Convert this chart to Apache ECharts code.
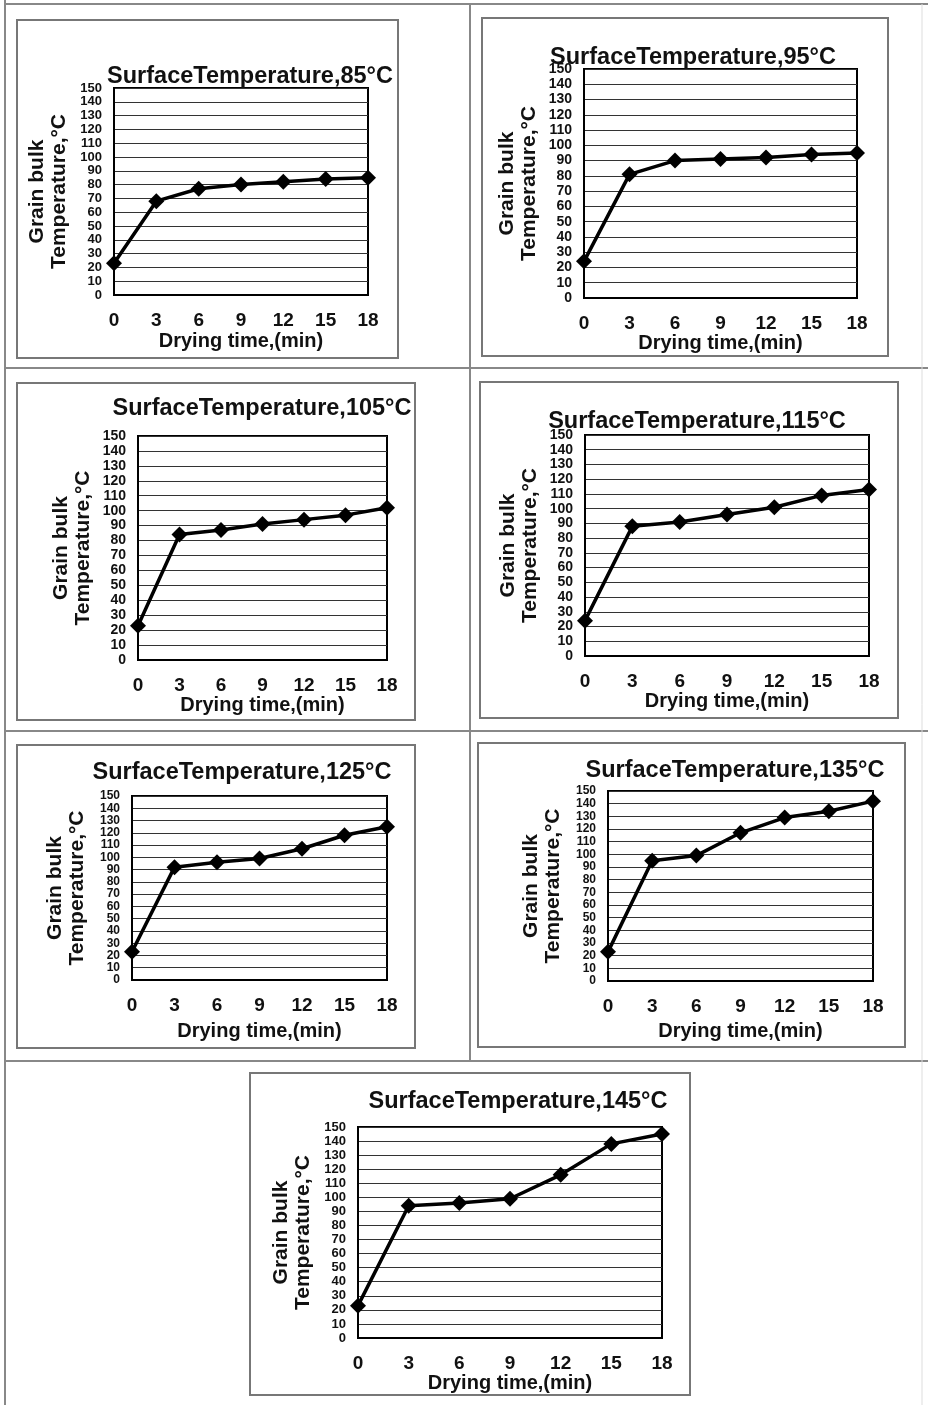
<!DOCTYPE html>
<html>
<head>
<meta charset="utf-8">
<script src="https://cdn.jsdelivr.net/npm/echarts@6/dist/echarts.min.js"></script>
<style>
html,body{margin:0;padding:0;background:#fff;}
#chart{width:928px;height:1405px;}
</style>
</head>
<body>
<div id="chart"></div>
<script>
// ---- data ----
const dryingTimes = [0, 3, 6, 9, 12, 15, 18];
const surfaceTemps = [85, 95, 105, 115, 125, 135, 145];
const bulk85  = [23, 68, 77, 80, 82, 84, 85];
const bulk95  = [24, 81, 90, 91, 92, 94, 95];
const bulk105 = [23, 84, 87, 91, 94, 97, 102];
const bulk115 = [24, 88, 91, 96, 101, 109, 113];
const bulk125 = [23, 92, 96, 99, 107, 118, 125];
const bulk135 = [23, 95, 99, 117, 129, 134, 142];
const bulk145 = [23, 94, 96, 99, 116, 138, 145];
const yTickMin = 0, yTickMax = 150, yTickStep = 10;
const xTickStep = 3;
const titlePrefix = 'SurfaceTemperature,';
const yName = 'Grain bulk\nTemperature,°C';
const xName = 'Drying time,(min)';

const allSeries = [bulk85, bulk95, bulk105, bulk115, bulk125, bulk135, bulk145];

// ---- layout (positions only) ----
const grids = [
  {left:114, top:88,  width:254, height:207, tx:245, ty:75,   xGap:36},
  {left:584, top:69,  width:273, height:229, tx:688, ty:56,   xGap:30},
  {left:138, top:436, width:249, height:224, tx:257, ty:407,  xGap:31},
  {left:585, top:435, width:284, height:221, tx:692, ty:420,  xGap:34},
  {left:132, top:796, width:255, height:184, tx:237, ty:771,  xGap:41},
  {left:608, top:791, width:265, height:190, tx:730, ty:769,  xGap:40},
  {left:358, top:1127,width:304, height:211, tx:513, ty:1100, xGap:33}
];
const boxes = [
  [17,20,398,358],[482,18,888,356],[17,383,415,720],[480,382,898,718],
  [17,745,415,1048],[478,743,905,1047],[250,1073,690,1395]
];

const FONT = '"Liberation Sans", Arial, sans-serif';

const option = {
  backgroundColor: '#ffffff',
  animation: false,
  title: [], grid: [], xAxis: [], yAxis: [], series: [],
  graphic: []
};

grids.forEach((g, i) => {
  const tickSpacing = g.height / ((yTickMax - yTickMin) / yTickStep);
  const yLabelSize = Math.min(14, Math.floor(tickSpacing - 0.2));
  option.title.push({
    text: titlePrefix + surfaceTemps[i] + '°C',
    left: g.tx, top: g.ty - 15, textAlign: 'center',
    textStyle: {fontFamily: FONT, fontWeight: 'bold', fontSize: 23.5, color: '#111'}
  });
  option.grid.push({
    left: g.left, top: g.top, width: g.width, height: g.height,
    show: true, borderColor: '#000', borderWidth: 2, backgroundColor: '#fff'
  });
  option.xAxis.push({
    type: 'value', gridIndex: i, min: dryingTimes[0], max: dryingTimes[dryingTimes.length-1],
    interval: xTickStep,
    name: xName, nameLocation: 'middle', nameGap: g.xGap,
    nameTextStyle: {fontFamily: FONT, fontWeight: 'bold', fontSize: 20, color: '#111'},
    axisLine: {show: true, lineStyle: {color: '#000', width: 2}},
    axisTick: {show: false},
    splitLine: {show: false},
    axisLabel: {margin: 16, fontFamily: FONT, fontWeight: 'bold', fontSize: 19, color: '#111',
      showMinLabel: true, showMaxLabel: true, hideOverlap: false}
  });
  option.yAxis.push({
    type: 'value', gridIndex: i, min: yTickMin, max: yTickMax, interval: yTickStep,
    name: yName, nameLocation: 'middle', nameGap: 44, nameRotate: 90,
    nameTextStyle: {fontFamily: FONT, fontWeight: 'bold', fontSize: 21, color: '#111', lineHeight: 22, align: 'center'},
    axisLine: {show: true, lineStyle: {color: '#000', width: 2}},
    axisTick: {show: false},
    splitLine: {show: true, lineStyle: {color: '#333', width: 1}},
    axisLabel: {
      margin: 12, showMinLabel: true, showMaxLabel: true, hideOverlap: false,
      fontFamily: FONT, fontWeight: 'bold', fontSize: yLabelSize, color: '#111'
    }
  });
  option.series.push({
    type: 'line', xAxisIndex: i, yAxisIndex: i,
    data: dryingTimes.map((t, k) => [t, allSeries[i][k]]),
    symbol: 'diamond', symbolSize: 16, showAllSymbol: true,
    lineStyle: {color: '#000', width: 3.5},
    itemStyle: {color: '#000'},
    z: 5
  });
});

// table lines
const tableLines = [
  [5, 4, 928, 4], [5, 0, 5, 1405], [470, 4, 470, 1061],
  [5, 368, 928, 368], [5, 731, 928, 731], [5, 1061, 928, 1061]
];
tableLines.forEach(l => option.graphic.push({
  type: 'line', shape: {x1: l[0], y1: l[1], x2: l[2], y2: l[3]},
  style: {stroke: '#888', lineWidth: 2}, z: -10, silent: true
}));
option.graphic.push({
  type: 'line', shape: {x1: 922, y1: 4, x2: 922, y2: 1405},
  style: {stroke: '#ddd', lineWidth: 1}, z: -10, silent: true
});
boxes.forEach(b => option.graphic.push({
  type: 'rect', shape: {x: b[0], y: b[1], width: b[2]-b[0], height: b[3]-b[1]},
  style: {stroke: '#777', lineWidth: 2, fill: null}, z: -5, silent: true
}));

const chart = echarts.init(document.getElementById('chart'), null, {renderer: 'canvas'});
chart.setOption(option);
</script>
</body>
</html>
